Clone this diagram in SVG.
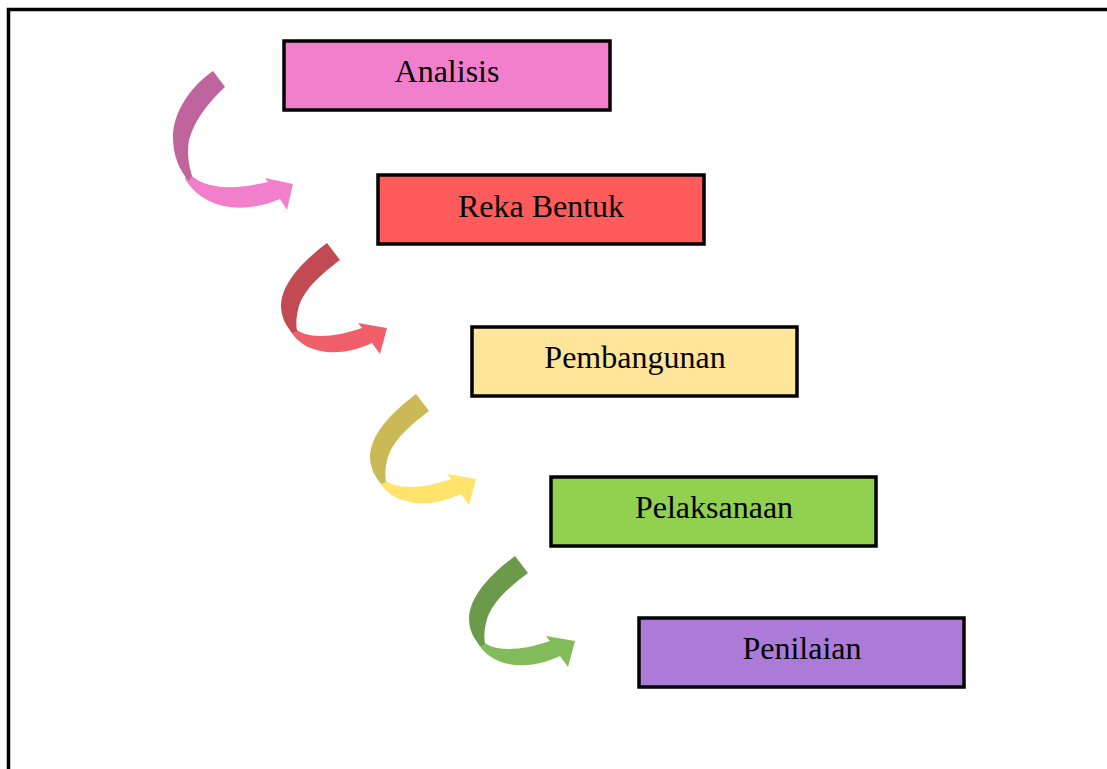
<svg xmlns="http://www.w3.org/2000/svg" width="1107" height="769" viewBox="0 0 1107 769">
<style>
.box{stroke:#000;stroke-width:3.5}
.lbl{font-family:"Liberation Serif","Times New Roman",serif;font-size:32px;fill:#000;text-anchor:middle}
</style>
<defs>
<path id="dk" d="M44,0 L57,17 C37,32 19,48 15,67 C13,76 13,82 14,88 L9,90 C1,80 -2,72 -2,62 C-1,40 20,18 44,0 Z"/>
<path id="lt" d="M9,83 C22,97 50,95 79,85 L75,80 L104,85 L97,111 L89,100 C55,116 20,111 7,87 Z"/>
</defs>
<rect x="8.5" y="9.5" width="1200" height="800" fill="#fff" stroke="#000" stroke-width="3.5"/>
<g id="connectors">
<g>
<path d="M187,171 C200,187 225,192 268,182 L265,178 L293,184 L287,210 L280,199 C245,214 205,211 185,179 Z" fill="#F27FCB"/>
<path d="M213,71 L225,87 C211,100 195,118 189,140 C187,152 188,162 192,176 L189,181 C179,170 173,155 173,137 C173,113 189,88 213,71 Z" fill="#C0649E"/>
</g>
<g transform="translate(283,243)"><use href="#lt" fill="#F0606A"/><use href="#dk" fill="#C24B53"/></g>
<g transform="translate(372,394)"><use href="#lt" fill="#FFE36B"/><use href="#dk" fill="#CBB955"/></g>
<g transform="translate(471,556)"><use href="#lt" fill="#82BC5A"/><use href="#dk" fill="#6A9A4A"/></g>
</g>
<g id="analisis"><rect class="box" x="284" y="41" width="326" height="69" fill="#F27FCB"/><text class="lbl" x="447" y="82">Analisis</text></g>
<g id="reka-bentuk"><rect class="box" x="378" y="175" width="326" height="69" fill="#FF5B5B"/><text class="lbl" x="541" y="217">Reka Bentuk</text></g>
<g id="pembangunan"><rect class="box" x="472" y="327" width="325" height="69" fill="#FFE599"/><text class="lbl" x="635" y="368">Pembangunan</text></g>
<g id="pelaksanaan"><rect class="box" x="551" y="477" width="325" height="69" fill="#92D050"/><text class="lbl" x="714" y="518">Pelaksanaan</text></g>
<g id="penilaian"><rect class="box" x="639" y="618" width="325" height="69" fill="#AC7BD8"/><text class="lbl" x="802" y="659">Penilaian</text></g>
</svg>
